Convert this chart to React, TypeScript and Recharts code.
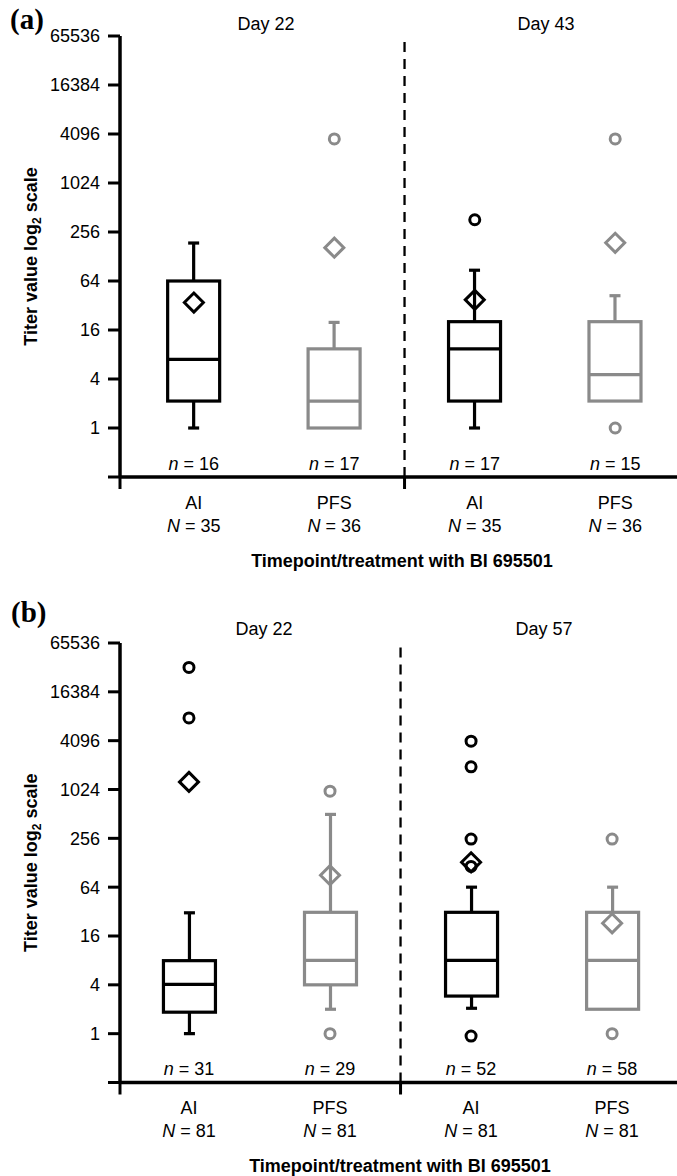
import React from 'react';
import { ComposedChart, Bar, Scatter, XAxis, YAxis, ReferenceLine } from 'recharts';

// ---------- shared ----------
const categories = ['AI', 'PFS', 'AI', 'PFS'];
const categoryPos = [1, 2, 3, 4];
const yTickValues = [-2, 0, 2, 4, 6, 8, 10, 12, 14, 16]; // log2 titer

// ---------- panel (a): Day 22 / Day 43 (values are log2 titer) ----------
const aDays = ['Day 22', 'Day 43'];
const aTotalN = [35, 36, 35, 36];
const aCount = [16, 17, 17, 15];
const aWhiskerLow = [0, 0, 0, 1.1];
const aQ1 = [1.1, 0, 1.1, 1.1];
const aMedian = [2.8, 1.1, 3.23, 2.18];
const aQ3 = [6.0, 3.23, 4.34, 4.34];
const aWhiskerHigh = [7.55, 4.31, 6.44, 5.4];
const aMean = [5.12, 7.36, 5.23, 7.56];
const aOutlierPos = [2, 3, 4, 4];
const aOutlierVal = [11.8, 8.5, 11.8, 0];

// ---------- panel (b): Day 22 / Day 57 (values are log2 titer) ----------
const bDays = ['Day 22', 'Day 57'];
const bTotalN = [81, 81, 81, 81];
const bCount = [31, 29, 52, 58];
const bWhiskerLow = [0, 1.0, 1.04, 1.0];
const bQ1 = [0.88, 2.0, 1.54, 1.0];
const bMedian = [2.02, 3.0, 3.0, 3.0];
const bQ3 = [2.99, 4.97, 4.97, 4.97];
const bWhiskerHigh = [4.95, 8.98, 6.0, 6.0];
const bMean = [10.31, 6.49, 7.02, 4.52];
const bOutlierPos = [1, 1, 2, 2, 3, 3, 3, 3, 3, 4, 4];
const bOutlierVal = [15, 12.93, 9.93, 0, 11.98, 10.93, 7.97, 6.85, -0.1, 7.97, 0];

const BLACK = '#000000';
const GRAY = '#8a8a8a';
const FONT = '"Liberation Sans", Arial, sans-serif';
const colorFor = (cat: string) => (cat === 'AI' ? BLACK : GRAY);

function buildRows(low: number[], q1: number[], med: number[], q3: number[], high: number[], totalN: number[], count: number[]) {
  return categories.map((cat, i) => ({
    x: categoryPos[i],
    cat,
    N: totalN[i],
    n: count[i],
    low: low[i],
    q1: q1[i],
    med: med[i],
    q3: q3[i],
    high: high[i],
    range: [Math.min(low[i], q1[i]), high[i]],
  }));
}

function buildPoints(pos: number[], vals: number[]) {
  return pos.map((p, i) => ({ x: p, y: vals[i], cat: categories[p - 1] }));
}

function BoxShape(props: any) {
  const { x, y, width, height, payload } = props;
  if (x == null || y == null || !payload) return null;
  const top = Math.min(y, y + height);
  const bottom = Math.max(y, y + height);
  const [lo, hi] = payload.range;
  const span = hi - lo || 1;
  const py = (v: number) => top + ((bottom - top) * (hi - v)) / span;
  const cx = x + width / 2;
  const color = colorFor(payload.cat);
  const sw = 3.2;
  const cap = 5.5;
  const yQ3 = py(payload.q3);
  const yQ1 = py(payload.q1);
  const yHi = py(payload.high);
  const yLo = py(payload.low);
  const yMed = py(payload.med);
  return (
    <g>
      {payload.high > payload.q3 && (
        <g>
          <line x1={cx} x2={cx} y1={yQ3} y2={yHi} stroke={color} strokeWidth={sw} />
          <line x1={cx - cap} x2={cx + cap} y1={yHi} y2={yHi} stroke={color} strokeWidth={sw} />
        </g>
      )}
      {payload.low < payload.q1 && (
        <g>
          <line x1={cx} x2={cx} y1={yQ1} y2={yLo} stroke={color} strokeWidth={sw} />
          <line x1={cx - cap} x2={cx + cap} y1={yLo} y2={yLo} stroke={color} strokeWidth={sw} />
        </g>
      )}
      <rect x={x} y={yQ3} width={width} height={yQ1 - yQ3} fill="none" stroke={color} strokeWidth={sw} />
      <line x1={x} x2={x + width} y1={yMed} y2={yMed} stroke={color} strokeWidth={sw} />
    </g>
  );
}

function OutlierShape(props: any) {
  const { cx, cy, payload } = props;
  if (cx == null || cy == null) return null;
  return <circle cx={cx} cy={cy} r={5} fill="none" stroke={colorFor(payload.cat)} strokeWidth={3} />;
}

function MeanShape(props: any) {
  const { cx, cy, payload } = props;
  if (cx == null || cy == null) return null;
  const s = 9.5;
  return (
    <path
      d={`M${cx},${cy - s} L${cx + s},${cy} L${cx},${cy + s} L${cx - s},${cy} Z`}
      fill="none"
      stroke={colorFor(payload.cat)}
      strokeWidth={3}
      strokeLinejoin="miter"
    />
  );
}

function makeXTick(rows: any[]) {
  return (props: any) => {
    const { x, y, payload } = props;
    const v = payload.value;
    const idx = categoryPos.indexOf(v);
    if (idx < 0) {
      return <line x1={x} x2={x} y1={y} y2={y + 12} stroke={BLACK} strokeWidth={3} />;
    }
    const r = rows[idx];
    return (
      <g fontFamily={FONT} fontSize={18} fill={BLACK}>
        <text x={x} y={y - 7.5} textAnchor="middle">
          <tspan fontStyle="italic">n</tspan>
          <tspan>{` = ${r.n}`}</tspan>
        </text>
        <text x={x} y={y + 31.5} textAnchor="middle">{r.cat}</text>
        <text x={x} y={y + 54.5} textAnchor="middle">
          <tspan fontStyle="italic">N</tspan>
          <tspan>{` = ${r.N}`}</tspan>
        </text>
      </g>
    );
  };
}

const yLabel = (props: any) => {
  const vb = props.viewBox || {};
  const cy = (vb.y || 0) + (vb.height || 0) / 2;
  return (
    <text
      transform={`translate(37, ${cy}) rotate(-90)`}
      textAnchor="middle"
      fontFamily={FONT}
      fontWeight="bold"
      fontSize={18}
      fill={BLACK}
    >
      <tspan>Titer value log</tspan>
      <tspan fontSize={12} dy={4}>2</tspan>
      <tspan dy={-4}> scale</tspan>
    </text>
  );
};

type PanelProps = {
  top: number;
  height: number;
  marginTop: number;
  xAxisHeight: number;
  xDomain: [number, number];
  rows: any[];
  means: any[];
  outliers: any[];
};

function Panel({ top, height, marginTop, xAxisHeight, xDomain, rows, means, outliers }: PanelProps) {
  const ticksX = [xDomain[0], 1, 2, 2.5, 3, 4];
  return (
    <div style={{ position: 'absolute', left: 0, top }}>
      <ComposedChart width={677} height={height} data={rows} margin={{ top: marginTop, right: 0, bottom: 0, left: 0 }}>
        <XAxis
          dataKey="x"
          type="number"
          domain={xDomain}
          allowDataOverflow
          ticks={ticksX}
          interval={0}
          tickSize={0}
          tickMargin={0}
          tickLine={false}
          axisLine={{ stroke: BLACK, strokeWidth: 3.5 }}
          tick={makeXTick(rows)}
          height={xAxisHeight}
        />
        <YAxis
          type="number"
          domain={[-2, 16]}
          allowDataOverflow
          ticks={yTickValues}
          interval={0}
          tickFormatter={(v: number) => (v < 0 ? '' : String(Math.pow(2, v)))}
          tick={{ fill: BLACK, fontSize: 18, fontFamily: FONT }}
          tickSize={12}
          tickMargin={8}
          axisLine={{ stroke: BLACK, strokeWidth: 3.5 }}
          tickLine={{ stroke: BLACK, strokeWidth: 3 }}
          width={120}
          label={yLabel}
        />
        <ReferenceLine x={2.5} stroke={BLACK} strokeWidth={2.3} strokeDasharray="10 7" />
        <Bar dataKey="range" barSize={52} shape={BoxShape} isAnimationActive={false} />
        <Scatter data={outliers} dataKey="y" shape={OutlierShape} isAnimationActive={false} />
        <Scatter data={means} dataKey="y" shape={MeanShape} isAnimationActive={false} />
      </ComposedChart>
    </div>
  );
}

export default function App() {
  const aRows = buildRows(aWhiskerLow, aQ1, aMedian, aQ3, aWhiskerHigh, aTotalN, aCount);
  const bRows = buildRows(bWhiskerLow, bQ1, bMedian, bQ3, bWhiskerHigh, bTotalN, bCount);
  const aMeans = buildPoints(categoryPos, aMean);
  const bMeans = buildPoints(categoryPos, bMean);
  const aOut = buildPoints(aOutlierPos, aOutlierVal);
  const bOut = buildPoints(bOutlierPos, bOutlierVal);
  return (
    <div style={{ position: 'absolute', left: 0, top: 0, width: 677, height: 1176, background: '#fff', overflow: 'hidden' }}>
      <Panel top={0} height={580} marginTop={36} xAxisHeight={103} xDomain={[0.474, 4.44]} rows={aRows} means={aMeans} outliers={aOut} />
      <Panel top={580} height={596} marginTop={63} xAxisHeight={93.5} xDomain={[0.511, 4.46]} rows={bRows} means={bMeans} outliers={bOut} />
      <svg width={677} height={1176} style={{ position: 'absolute', left: 0, top: 0, pointerEvents: 'none' }}>
        <g fontFamily={FONT} fontSize={18} fill={BLACK}>
          <text x={266} y={30} textAnchor="middle">{aDays[0]}</text>
          <text x={546} y={30} textAnchor="middle">{aDays[1]}</text>
          <text x={264} y={635} textAnchor="middle">{bDays[0]}</text>
          <text x={544} y={635} textAnchor="middle">{bDays[1]}</text>
          <text x={402} y={567} textAnchor="middle" fontWeight="bold">Timepoint/treatment with BI 695501</text>
          <text x={400} y={1172} textAnchor="middle" fontWeight="bold">Timepoint/treatment with BI 695501</text>
        </g>
        <g fontFamily={'"Liberation Serif", "Times New Roman", serif'} fontWeight="bold" fontSize={29} fill={BLACK}>
          <text x={10} y={29}>(a)</text>
          <text x={11} y={622}>(b)</text>
        </g>
      </svg>
    </div>
  );
}
